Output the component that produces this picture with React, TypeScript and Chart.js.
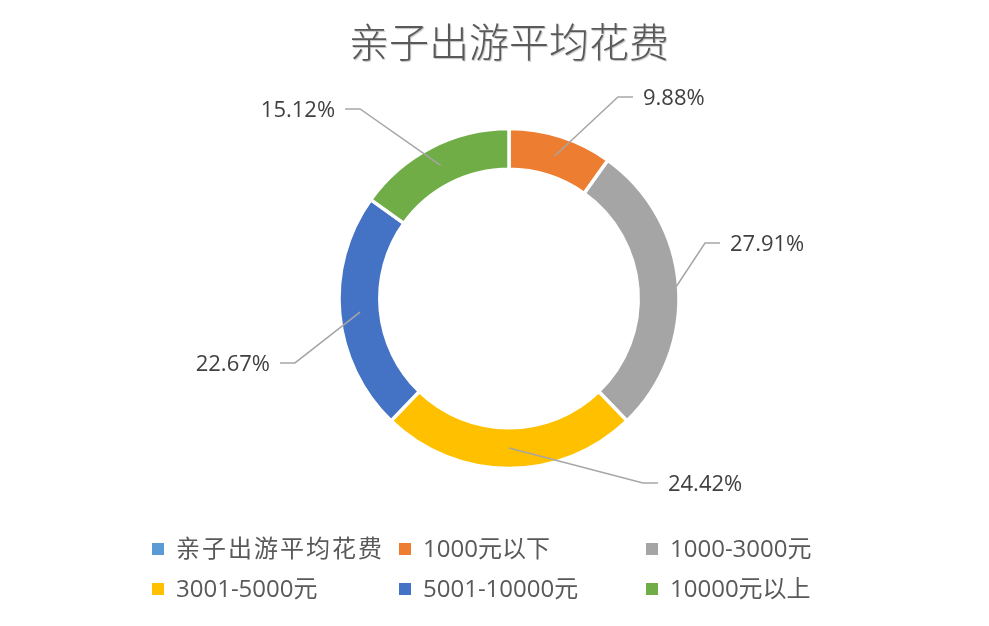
import React, { useEffect, useRef } from "react";
import { Chart, registerables } from "chart.js";

Chart.register(...registerables);

const TITLE = "亲子出游平均花费";
const CATEGORIES = ["亲子出游平均花费", "1000元以下", "1000-3000元", "3001-5000元", "5001-10000元", "10000元以上"];
const VALUES = [0, 9.88, 27.91, 24.42, 22.67, 15.12];
const COLORS = ["#5B9BD5", "#ED7D31", "#A5A5A5", "#FFC000", "#4472C4", "#70AD47"];

// label layout (relative to outer radius): elbow position factors, anchor fraction across ring
const LABEL_LAYOUT = [
  null,
  { fx: 0.641, fy: -1.185, a: 0.5 },
  { fx: 1.153, fy: -0.326, a: 0.95 },
  { fx: 0.788, fy: 1.085, a: 0.5 },
  { fx: -1.259, fy: 0.379, a: 0.5 },
  { fx: -0.876, fy: -1.115, a: 0.5 },
];

const LEGEND_COLS = [152, 399, 646];
const LEGEND_ROWS = [549, 589];

const FONT_STACK = '"Open Sans", "Noto Sans CJK SC", sans-serif';

const decorPlugin = {
  id: "decor",
  afterDraw(chart: any) {
    const ctx = chart.ctx as CanvasRenderingContext2D;
    const meta = chart.getDatasetMeta(0);
    const data = chart.data.datasets[0].data as number[];
    // title
    ctx.save();
    ctx.font = '300 40px "Noto Sans CJK SC", serif';
    ctx.fillStyle = "#595959";
    ctx.textAlign = "center";
    ctx.textBaseline = "middle";
    ctx.shadowColor = "rgba(0,0,0,0.25)";
    ctx.shadowOffsetX = 1;
    ctx.shadowOffsetY = 1;
    ctx.shadowBlur = 1;
    ctx.fillText(TITLE, 509, 42);
    ctx.restore();

    // data labels with leader lines
    ctx.save();
    meta.data.forEach((arc: any, i: number) => {
      const lay = LABEL_LAYOUT[i];
      if (!lay || !data[i]) return;
      const p = arc.getProps(["x", "y", "startAngle", "endAngle", "innerRadius", "outerRadius"], true);
      const mid = (p.startAngle + p.endAngle) / 2;
      const r = p.innerRadius + (p.outerRadius - p.innerRadius) * lay.a;
      const ax = p.x + Math.cos(mid) * r;
      const ay = p.y + Math.sin(mid) * r;
      const ex = p.x + p.outerRadius * lay.fx;
      const ey = p.y + p.outerRadius * lay.fy;
      const right = lay.fx > 0;
      const hx = ex + (right ? 15 : -15);
      ctx.strokeStyle = "#A6A6A6";
      ctx.lineWidth = 1.5;
      ctx.beginPath();
      ctx.moveTo(ax, ay);
      ctx.lineTo(ex, ey);
      ctx.lineTo(hx, ey);
      ctx.stroke();
      ctx.font = "22px " + FONT_STACK;
      ctx.fillStyle = "#404040";
      ctx.textBaseline = "middle";
      ctx.textAlign = right ? "left" : "right";
      ctx.fillText(data[i].toFixed(2) + "%", hx + (right ? 10 : -10), ey + 2);
    });
    ctx.restore();

    // legend
    ctx.save();
    const labels = chart.data.labels as string[];
    const colors = chart.data.datasets[0].backgroundColor as string[];
    labels.forEach((lab, i) => {
      const x = LEGEND_COLS[i % 3];
      const y = LEGEND_ROWS[Math.floor(i / 3)];
      ctx.fillStyle = colors[i];
      ctx.fillRect(x, y - 6, 12, 12);
      ctx.font = "24px " + FONT_STACK;
      ctx.fillStyle = "#595959";
      ctx.textAlign = "left";
      ctx.textBaseline = "middle";
      (ctx as any).letterSpacing = /\d/.test(lab) ? "0px" : "2px";
      ctx.fillText(lab, x + 24, y + 1);
    });
    ctx.restore();
  },
};

export default function App() {
  const ref = useRef<HTMLCanvasElement>(null);
  useEffect(() => {
    document.body.style.margin = "0";
    const chart = new Chart(ref.current!, {
      type: "doughnut",
      data: {
        labels: CATEGORIES,
        datasets: [
          {
            data: VALUES,
            backgroundColor: COLORS,
            borderColor: "#FFFFFF",
            borderWidth: 3.5,
          },
        ],
      },
      options: {
        animation: false,
        responsive: true,
        maintainAspectRatio: false,
        radius: 170,
        cutout: "76%",
        layout: { padding: { left: 29, right: 0, top: 130, bottom: 159 } },
        plugins: {
          legend: { display: false },
          title: { display: false },
          tooltip: { enabled: false },
        },
      } as any,
      plugins: [decorPlugin],
    });
    return () => chart.destroy();
  }, []);
  return (
    <div style={{ position: "fixed", left: 0, top: 0, width: 989, height: 626, background: "#fff" }}>
      <canvas ref={ref} />
    </div>
  );
}
